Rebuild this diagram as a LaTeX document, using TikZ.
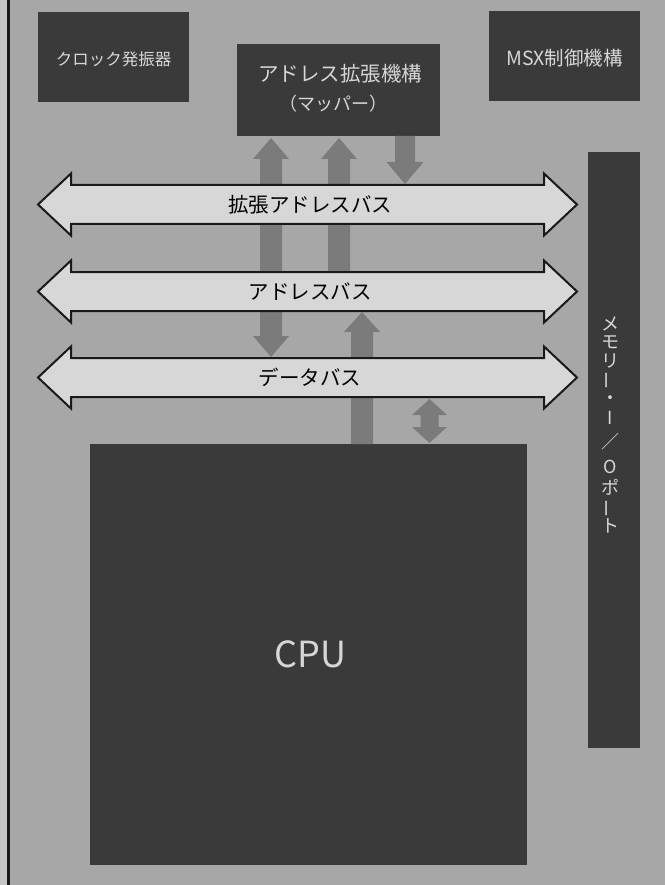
\documentclass[tikz,border=0pt]{standalone}
\usepackage{fontspec}
\setmainfont{Noto Sans CJK JP}
\usetikzlibrary{calc}
\definecolor{bg}{HTML}{A7A7A7}
\definecolor{strip}{HTML}{C6C6C6}
\definecolor{darkbox}{HTML}{3A3A3A}
\definecolor{arrowgrey}{HTML}{7B7B7B}
\definecolor{busfill}{HTML}{D7D7D7}
\definecolor{lighttext}{HTML}{D6D6D6}

\newcommand\arrowup[5]{\fill[arrowgrey] ($(#1)+(-#3,0)$) -- ($(#2)+(-#3,#5)$) -- ($(#2)+(-#4,#5)$) -- (#2) -- ($(#2)+(#4,#5)$) -- ($(#2)+(#3,#5)$) -- ($(#1)+(#3,0)$) -- cycle;}
\newcommand\arrowdown[5]{\fill[arrowgrey] ($(#1)+(-#3,0)$) -- ($(#2)+(-#3,-#5)$) -- ($(#2)+(-#4,-#5)$) -- (#2) -- ($(#2)+(#4,-#5)$) -- ($(#2)+(#3,-#5)$) -- ($(#1)+(#3,0)$) -- cycle;}
\newcommand\arrowboth[5]{\fill[arrowgrey] (#1) -- ($(#1)+(#4,#5)$) -- ($(#1)+(#3,#5)$) -- ($(#2)+(#3,-#5)$) -- ($(#2)+(#4,-#5)$) -- (#2) -- ($(#2)+(-#4,-#5)$) -- ($(#2)+(-#3,-#5)$) -- ($(#1)+(-#3,#5)$) -- ($(#1)+(-#4,#5)$) -- cycle;}
\newcommand\busoutline[1]{\draw[busline] ([xshift=-33pt]#1.west) -- ([yshift=11.5pt]#1.north west) -- (#1.north west) -- (#1.north east) -- ([yshift=11.5pt]#1.north east) -- ([xshift=33pt]#1.east) -- ([yshift=-11.5pt]#1.south east) -- (#1.south east) -- (#1.south west) -- ([yshift=-11.5pt]#1.south west) -- cycle;}

\begin{document}
\begin{tikzpicture}[x=1pt,y=-1pt,
  darkbox/.style={fill=darkbox, draw=none, inner sep=0pt, outer sep=0pt, text=lighttext, align=center},
  busbody/.style={draw=none, inner sep=0pt, outer sep=0pt, minimum width=473pt, minimum height=39pt},
  busline/.style={fill=busfill, draw=black!90, line width=2pt, line join=miter},
  bustext/.style={text=black, font=\fontsize{20.5}{22}\selectfont, inner sep=0pt},
  memtext/.style={text=lighttext, font=\fontsize{18}{20}\selectfont, inner sep=0pt}]
\useasboundingbox (0,0) rectangle (665,885);
\fill[bg] (0,0) rectangle (665,885);
\fill[strip] (0,0) rectangle (7,885);
\fill[black!90] (7,0) rectangle (10,885);

% boxes
\node[darkbox, minimum width=151pt, minimum height=90pt] (clk) at (113.5,57) {};
\node[lighttext, font=\fontsize{16.5}{18}\selectfont, inner sep=0pt] (clkt) at (113.5,59) {クロック発振器};
\node[darkbox, minimum width=203pt, minimum height=92pt] (addr) at (338.5,90) {};
\node[lighttext, font=\fontsize{20.5}{22}\selectfont, inner sep=0pt] (addrt) at (340,74) {アドレス拡張機構};
\node[lighttext, font=\fontsize{18}{20}\selectfont, inner sep=0pt] (addrm) at (333,104) {（マッパー）};
\node[darkbox, minimum width=151pt, minimum height=90pt] (msx) at (564.5,56) {};
\node[lighttext, font=\fontsize{19.5}{22}\selectfont, inner sep=0pt] (msxt) at (564.5,58) {MSX制御機構};
\node[darkbox, minimum width=52pt, minimum height=596pt] (mem) at (614,450) {};
\node[darkbox, minimum width=437pt, minimum height=421pt] (cpu) at (308.5,654.5) {};
\node[lighttext, font=\fontsize{36}{40}\selectfont, inner sep=0pt] (cput) at (310.5,654.5) {CPU};

% vertical label of memory / IO port
\node[memtext] (m1) at (610,324) {メ};
\node[memtext] (m2) at (610,342) {モ};
\node[memtext] (m3) at (610,361) {リ};
\node[memtext] (m4) at (610,380) {\rotatebox[origin=c]{90}{ー}};
\node[memtext] (m5) at (610,400) {・};
\node[memtext] (m6) at (610,418) {I};
\node[memtext] (m7) at (610,442) {／};
\node[memtext] (m8) at (610,467) {O};
\node[memtext] (m9) at (610,487) {ポ};
\node[memtext] (m10) at (610,508) {\rotatebox[origin=c]{90}{ー}};
\node[memtext] (m11) at (610,526) {ト};

% bus bodies (placement only)
\node[busbody] (eab) at (307.5,204.5) {};
\node[busbody] (ab) at (307.5,291.5) {};
\node[busbody] (db) at (307.5,377.5) {};

% arrow columns
\coordinate (x1) at (271,0);
\coordinate (x2) at (339,0);
\coordinate (x3) at (405,0);
\coordinate (x4) at (362,0);
\coordinate (x5) at (429.5,0);

\coordinate (a1t) at ($(addr.south -| x1)+(0,2)$);
\coordinate (a1b) at ($(db.north -| x1)+(0,-1)$);
\coordinate (a2s) at (ab.north -| x2);
\coordinate (a2t) at ($(addr.south -| x2)+(0,2)$);
\coordinate (a3s) at (addr.south -| x3);
\coordinate (a3t) at ($(eab.north -| x3)+(0,-1)$);
\coordinate (a4s) at (cpu.north -| x4);
\coordinate (a4t) at ($(ab.south -| x4)+(0,1)$);
\coordinate (a5t) at ($(db.south -| x5)+(0,2)$);
\coordinate (a5b) at ($(cpu.north -| x5)+(0,-1)$);

\arrowboth{a1t}{a1b}{11}{18}{21}
\arrowup{a2s}{a2t}{11}{18}{21}
\arrowdown{a3s}{a3t}{10}{18.5}{22}
\arrowup{a4s}{a4t}{11}{18}{20}
\arrowboth{a5t}{a5b}{9}{17.5}{16}

% buses
\busoutline{eab}
\busoutline{ab}
\busoutline{db}
\node[bustext] (eabt) at ($(eab.center)+(2.5,0)$) {拡張アドレスバス};
\node[bustext] (abt) at ($(ab.center)+(2.5,0)$) {アドレスバス};
\node[bustext] (dbt) at ($(db.center)+(2.5,0)$) {データバス};
\end{tikzpicture}
\end{document}
